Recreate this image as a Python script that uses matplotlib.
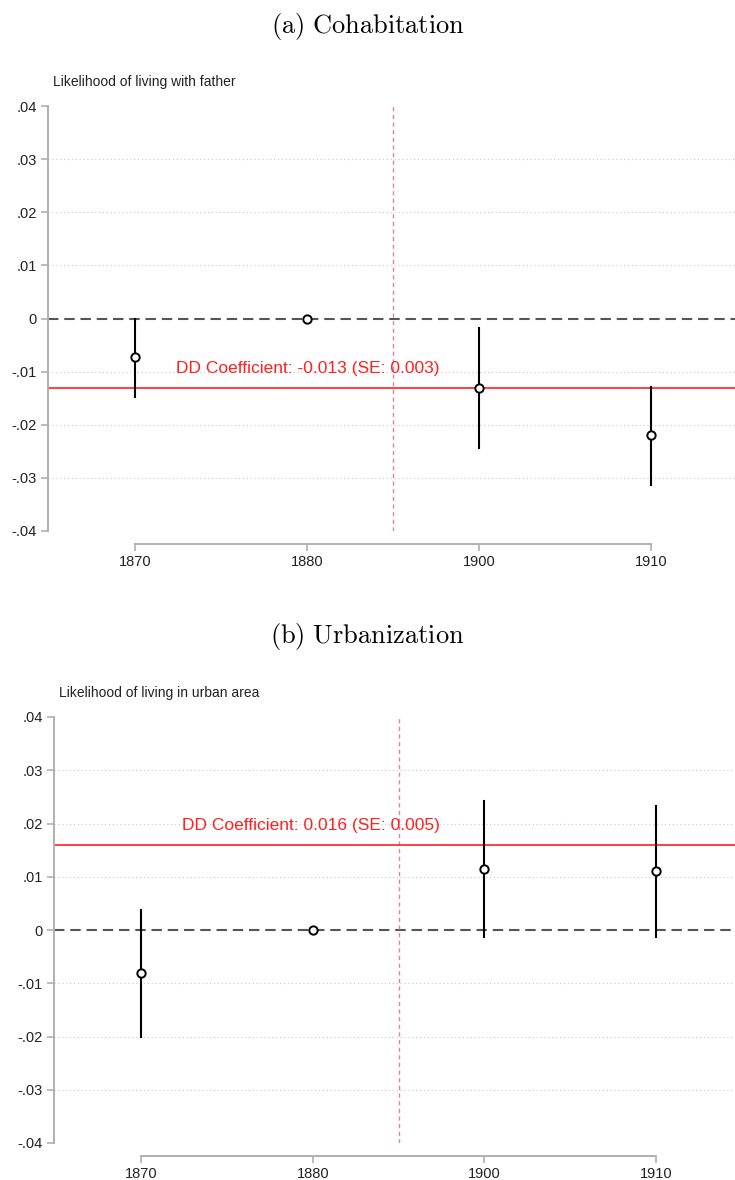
import matplotlib
matplotlib.use("Agg")
import matplotlib.pyplot as plt
import numpy as np

plt.rcParams['font.family'] = ['Liberation Sans', 'DejaVu Sans']
plt.rcParams['mathtext.fontset'] = 'cm'

# Event-study data: years, point estimates and 95% CI bounds
years = ['1870', '1880', '1900', '1910']
coh_est = [-0.0073, 0.0, -0.0130, -0.0220]
coh_lo = [-0.0147, 0.0, -0.0243, -0.0313]
coh_hi = [0.0000, 0.0, -0.0017, -0.0128]
coh_dd = -0.013
coh_label = 'DD Coefficient: -0.013 (SE: 0.003)'

urb_est = [-0.0081, 0.0, 0.0115, 0.0110]
urb_lo = [-0.0201, 0.0, -0.0013, -0.0013]
urb_hi = [0.0038, 0.0, 0.0242, 0.0233]
urb_dd = 0.016
urb_label = 'DD Coefficient: 0.016 (SE: 0.005)'

yticks = [0.04, 0.03, 0.02, 0.01, 0.0, -0.01, -0.02, -0.03, -0.04]
ytick_labels = ['.04', '.03', '.02', '.01', '0', '-.01', '-.02', '-.03', '-.04']

W, H = 735, 1180
fig = plt.figure(figsize=(W / 100, H / 100), dpi=100)


def panel(rect, xlim, est, lo, hi, dd, label, ytitle, title, title_y):
    ax = fig.add_axes(rect)
    x = np.arange(1, len(years) + 1)
    ax.set_xlim(*xlim)
    ax.set_ylim(-0.04, 0.04)

    # dotted gridlines on inner ticks
    for yv in yticks[1:-1]:
        if yv != 0:
            ax.axhline(yv, color='#c8c8c8', lw=0.8, ls=(0, (1, 2.5)), zorder=0)
    ax.axhline(0, color='#555555', lw=1.5, ls=(0, (5, 2.8)), zorder=1)
    ax.axvline(2.5, color='#e07fa8', lw=1.0, ls=(0, (3, 2.5)), zorder=1)
    ax.axhline(dd, color='#ff2020', lw=1.2, zorder=2)

    for xi, l, h in zip(x, lo, hi):
        if h != l:
            ax.plot([xi, xi], [l, h], color='black', lw=1.5, zorder=3)
    ax.plot(x, est, ls='none', marker='o', ms=6, mfc='white', mec='black',
            mew=1.4, zorder=4)

    ax.annotate(label, xy=(1.24, dd), xytext=(0, 14), textcoords='offset points',
                color='#ff2020', fontsize=12.5, va='center', ha='left')

    ax.set_yticks(yticks)
    ax.set_yticklabels(ytick_labels)
    ax.set_xticks(x)
    ax.set_xticklabels(years)
    for s in ['top', 'right']:
        ax.spines[s].set_visible(False)
    ax.spines['left'].set_bounds(-0.04, 0.04)
    ax.spines['bottom'].set_bounds(1, 4)
    ax.spines['bottom'].set_position(('outward', 9))
    for s in ['left', 'bottom']:
        ax.spines[s].set_color('#b0b0b0')
        ax.spines[s].set_linewidth(1.4)
    ax.tick_params(axis='both', colors='#b0b0b0', labelcolor='#222222',
                   labelsize=10.5, length=5, width=1.2, pad=3)

    ax.text(0.008, 1.04, ytitle, transform=ax.transAxes, fontsize=10,
            color='#222222', ha='left', va='bottom')
    fig.text(0.5, title_y, r'$\mathrm{' + title + '}$', ha='center', va='center',
             fontsize=19, color='black')
    return ax


panel([48 / W, 1 - 531 / H, 1 - 48 / W, 425 / H], (0.494, 4.488),
      coh_est, coh_lo, coh_hi, coh_dd, coh_label,
      'Likelihood of living with father', r'(a)\ Cohabitation', 1 - 27 / H)
panel([54 / W, 1 - 1143 / H, 1 - 54 / W, 426 / H], (0.493, 4.46),
      urb_est, urb_lo, urb_hi, urb_dd, urb_label,
      'Likelihood of living in urban area', r'(b)\ Urbanization', 1 - 637 / H)

fig.savefig('out.png', dpi=100)
